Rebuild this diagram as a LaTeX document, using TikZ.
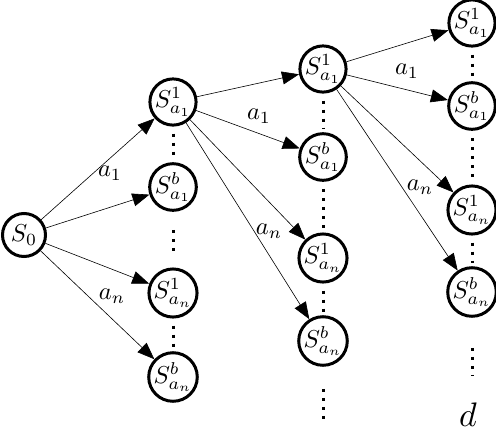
\documentclass[tikz,border=0pt]{standalone}
\usepackage{graphicx}
\usetikzlibrary{arrows.meta}
\newcommand\mybig[1]{\scalebox{2.45}{#1}}
\newcommand\myhuge[1]{\scalebox{3.4}{#1}}
\tikzset{
  state/.style={circle, draw, line width=3pt, minimum size=43pt, inner sep=0pt},
  edge/.style={line width=0.6pt, -{Triangle[length=17pt,width=13pt]}},
  lbl/.style={inner sep=0pt},
  vdots/.style={line width=3pt, dash pattern=on 3pt off 6pt},
}
\begin{document}
\begin{tikzpicture}[x=1pt,y=-1pt]
\useasboundingbox (0,0) rectangle (496,432);
% nodes
\node[state] (s0) at (24,235) {\mybig{$S_0$}};
\node[state] (a11) at (173,102) {\mybig{$S^1_{a_1}$}};
\node[state] (a1b) at (173,187) {\mybig{$S^b_{a_1}$}};
\node[state] (an1) at (173,293) {\mybig{$S^1_{a_n}$}};
\node[state] (anb) at (173,377) {\mybig{$S^b_{a_n}$}};
\node[state] (b11) at (323,69) {\mybig{$S^1_{a_1}$}};
\node[state] (b1b) at (323,157) {\mybig{$S^b_{a_1}$}};
\node[state] (bn1) at (323,258) {\mybig{$S^1_{a_n}$}};
\node[state] (bnb) at (323,341) {\mybig{$S^b_{a_n}$}};
\node[state] (c11) at (472,23) {\mybig{$S^1_{a_1}$}};
\node[state] (c1b) at (472,106) {\mybig{$S^b_{a_1}$}};
\node[state] (cn1) at (472,210) {\mybig{$S^1_{a_n}$}};
\node[state] (cnb) at (472,292) {\mybig{$S^b_{a_n}$}};
% edges
\draw[edge] (s0) -- (a11);
\draw[edge] (s0) -- (a1b);
\draw[edge] (s0) -- (an1);
\draw[edge] (s0) -- (anb);
\draw[edge] (a11) -- (b11);
\draw[edge] (a11) -- (b1b);
\draw[edge] (a11) -- (bn1);
\draw[edge] (a11) -- (bnb);
\draw[edge] (b11) -- (c11);
\draw[edge] (b11) -- (c1b);
\draw[edge] (b11) -- (cn1);
\draw[edge] (b11) -- (cnb);
% labels
\node[lbl] (l1) at (110,173) {\mybig{$a_1$}};
\node[lbl] (l2) at (112,296) {\mybig{$a_n$}};
\node[lbl] (l3) at (259,116) {\mybig{$a_1$}};
\node[lbl] (l4) at (269,231) {\mybig{$a_n$}};
\node[lbl] (l5) at (407,71) {\mybig{$a_1$}};
\node[lbl] (l6) at (420,187) {\mybig{$a_n$}};
\node[lbl] (d) at (468,415) {\myhuge{$d$}};
% vertical dots
\coordinate (e2) at (323,420);
\coordinate (e3) at (472,376);
\draw[vdots, shorten <=7pt, shorten >=3pt] (a11.south) -- (a1b.north);
\draw[vdots, shorten <=18pt, shorten >=14pt] (a1b.south) -- (an1.north);
\draw[vdots, shorten <=7pt, shorten >=3pt] (an1.south) -- (anb.north);
\draw[vdots, shorten <=7pt, shorten >=3pt] (b11.south) -- (b1b.north);
\draw[vdots, shorten <=7pt, shorten >=3pt] (b1b.south) -- (bn1.north);
\draw[vdots, shorten <=7pt, shorten >=3pt] (bn1.south) -- (bnb.north);
\draw[vdots, shorten <=22pt] (bnb.south) -- (e2);
\draw[vdots, shorten <=7pt, shorten >=3pt] (c11.south) -- (c1b.north);
\draw[vdots, shorten <=7pt, shorten >=3pt] (c1b.south) -- (cn1.north);
\draw[vdots, shorten <=7pt, shorten >=3pt] (cn1.south) -- (cnb.north);
\draw[vdots, shorten <=30pt] (cnb.south) -- (e3);
\end{tikzpicture}
\end{document}
